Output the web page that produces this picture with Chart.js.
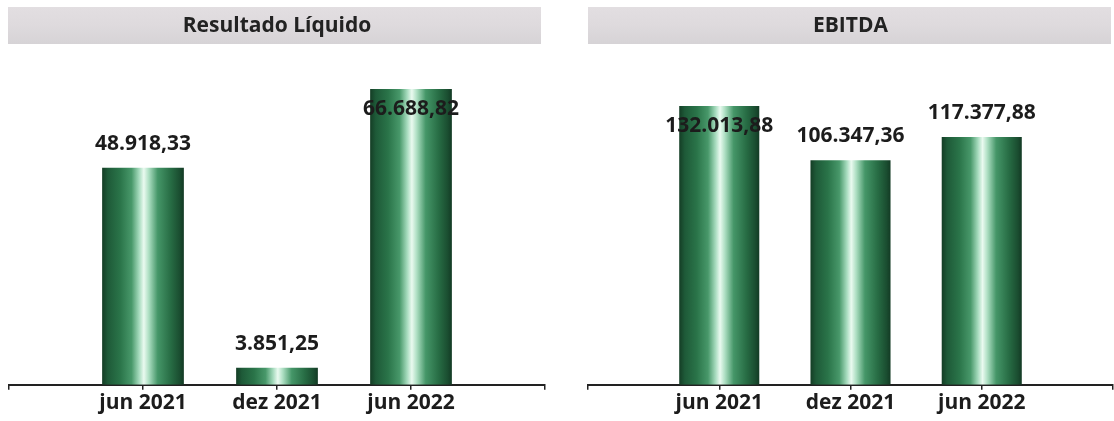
<!DOCTYPE html>
<html>
<head>
<meta charset="utf-8">
<script src="https://cdn.jsdelivr.net/npm/chart.js@4.4.1/dist/chart.umd.min.js"></script>
<style>
  html, body { margin: 0; padding: 0; background: #ffffff; }
  #wrap { position: relative; width: 1114px; height: 421px; overflow: hidden; background: #fff; }
  .box { position: absolute; top: 0; height: 421px; }
  #boxL { left: 0; width: 546px; }
  #boxR { left: 587px; width: 527px; }
</style>
</head>
<body>
<div id="wrap">
  <div class="box" id="boxL"><canvas id="cL"></canvas></div>
  <div class="box" id="boxR"><canvas id="cR"></canvas></div>
</div>
<script>
// ---- data ----
const categories = ['jun 2021', 'dez 2021', 'jun 2022'];
const resultadoLiquido = [48918.33, 3851.25, 66688.82];
const ebitda = [132013.88, 106347.36, 117377.88];
const titleLiquido = 'Resultado Líquido';
const titleEbitda = 'EBITDA';

function fmtBR(v) {
  const parts = v.toFixed(2).split('.');
  return parts[0].replace(/\B(?=(\d{3})+(?!\d))/g, '.') + ',' + parts[1];
}

const FONT = '"Open Sans", "DejaVu Sans", sans-serif';
const TEXT = '#1c1c1c';

// banner behind the title block
const bannerPlugin = {
  id: 'banner',
  beforeDraw(chart, args, opts) {
    const tb = chart.titleBlock;
    if (!tb) return;
    const c = chart.ctx;
    c.save();
    const g = c.createLinearGradient(0, tb.top, 0, tb.top + opts.height);
    g.addColorStop(0, '#e2dee1');
    g.addColorStop(0.5, '#dedadd');
    g.addColorStop(1, '#d6d3d6');
    c.fillStyle = g;
    c.fillRect(tb.left + opts.insetLeft, tb.top, (tb.right - opts.insetRight) - (tb.left + opts.insetLeft), opts.height);
    c.restore();
  }
};

// cylinder-like horizontal gradient for each bar
const cylinderPlugin = {
  id: 'cylinder',
  beforeDatasetsDraw(chart) {
    const c = chart.ctx;
    chart.data.datasets.forEach((ds, di) => {
      const meta = chart.getDatasetMeta(di);
      meta.data.forEach((el) => {
        if (!el || el.skip || el.width == null || isNaN(el.x)) return;
        const x0 = el.x - el.width / 2, x1 = el.x + el.width / 2;
        const g = c.createLinearGradient(x0, 0, x1, 0);
        g.addColorStop(0.00, '#143d25');
        g.addColorStop(0.07, '#1e5a38');
        g.addColorStop(0.22, '#2a7449');
        g.addColorStop(0.36, '#48986a');
        g.addColorStop(0.45, '#a3d9bb');
        g.addColorStop(0.51, '#eafaf0');
        g.addColorStop(0.57, '#aedfc3');
        g.addColorStop(0.68, '#459668');
        g.addColorStop(0.84, '#276c44');
        g.addColorStop(0.95, '#1a4d30');
        g.addColorStop(1.00, '#133a24');
        el.options = Object.assign({}, el.options, { backgroundColor: g });
      });
    });
  }
};

// value labels (above the bar, or inside when they would leave the plot area)
const valueLabelPlugin = {
  id: 'valueLabels',
  afterDatasetsDraw(chart, args, opts) {
    const c = chart.ctx;
    const area = chart.chartArea;
    c.save();
    c.font = 'bold 21px ' + FONT;
    c.fillStyle = TEXT;
    c.textAlign = 'center';
    c.textBaseline = 'middle';
    chart.data.datasets.forEach((ds, di) => {
      const meta = chart.getDatasetMeta(di);
      meta.data.forEach((el, i) => {
        const v = ds.data[i];
        if (v == null || !el) return;
        let y = el.y - opts.above;
        if (y - opts.half < area.top) y = el.y + opts.inside;
        c.fillText(fmtBR(v), el.x, y);
      });
    });
    c.restore();
  }
};

function makeChart(canvasId, title, values, yMax, titleBottomPad, pad, banner) {
  const labels = [''].concat(categories, ['']);
  const data = [null].concat(values, [null]);
  return new Chart(document.getElementById(canvasId), {
    type: 'bar',
    data: {
      labels: labels,
      datasets: [{
        data: data,
        backgroundColor: '#2f7c50',
        borderWidth: 0,
        barPercentage: 0.61,
        categoryPercentage: 1.0
      }]
    },
    options: {
      responsive: true,
      maintainAspectRatio: false,
      animation: false,
      devicePixelRatio: 1,
      layout: { padding: pad },
      plugins: {
        legend: { display: false },
        tooltip: { enabled: false },
        title: {
          display: true,
          text: title,
          color: '#222222',
          font: { family: FONT, size: 21, weight: 'bold', lineHeight: 1.2 },
          padding: { top: 6, bottom: titleBottomPad }
        },
        banner: banner,
        valueLabels: { above: 24, inside: 20, half: 10 }
      },
      scales: {
        x: {
          type: 'category',
          offset: false,
          border: { display: true, color: '#222222', width: 2 },
          grid: {
            display: true,
            offset: false,
            drawOnChartArea: false,
            drawTicks: true,
            tickLength: 5,
            color: '#222222',
            lineWidth: 1.5
          },
          ticks: {
            autoSkip: false,
            maxRotation: 0,
            minRotation: 0,
            padding: 1,
            color: TEXT,
            font: { family: FONT, size: 21, weight: 'bold', lineHeight: 1.2 }
          }
        },
        y: {
          display: false,
          min: 0,
          max: yMax
        }
      }
    },
    plugins: [bannerPlugin, cylinderPlugin, valueLabelPlugin]
  });
}

makeChart('cL', titleLiquido, resultadoLiquido, 70000, 36,
  { left: 9, right: 1, top: 7, bottom: 4 },
  { height: 37, insetLeft: -1, insetRight: 4 });
makeChart('cR', titleEbitda, ebitda, 140000, 51,
  { left: 1, right: 1, top: 7, bottom: 4 },
  { height: 37, insetLeft: 0, insetRight: 2 });
</script>
</body>
</html>
